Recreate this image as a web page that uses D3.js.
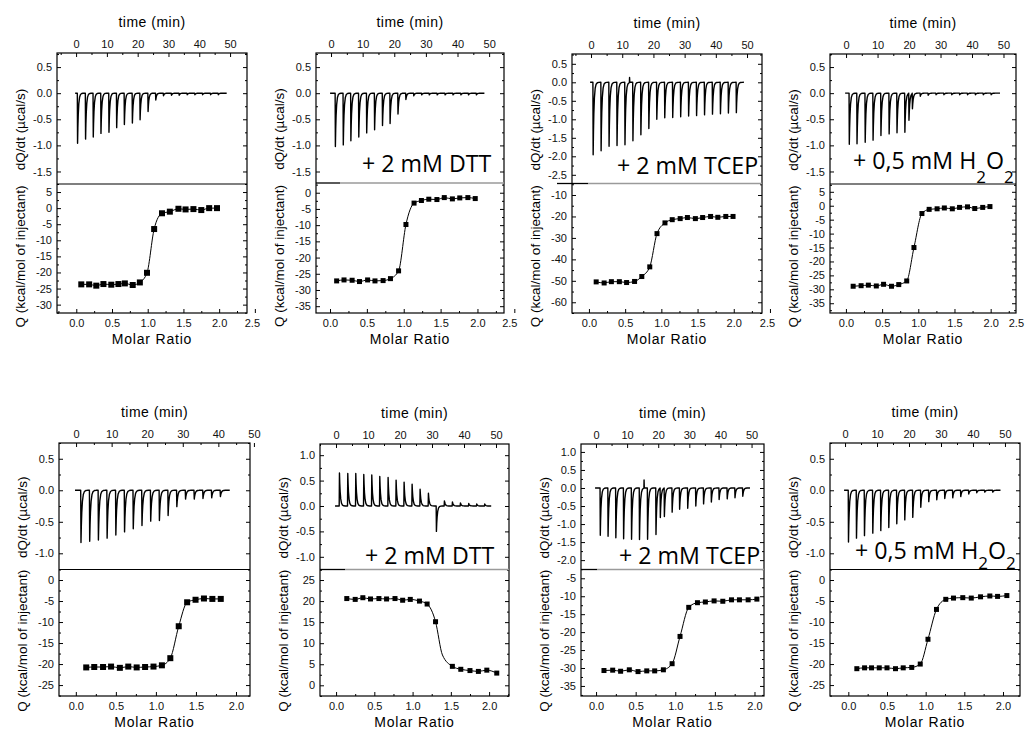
<!DOCTYPE html>
<html><head><meta charset="utf-8">
<script src="https://cdn.jsdelivr.net/npm/d3@7"></script>
<style>body{margin:0;background:#fff}svg{display:block}</style>
</head><body>
<svg id="c" width="1026" height="729"></svg>
<script>
// ---------------- DATA ----------------
const timeTicks = [0, 10, 20, 30, 40, 50];
const ratioTicksRow1 = [0, 0.5, 1.0, 1.5, 2.0, 2.5];
const ratioTicksRow2 = [0, 0.5, 1.0, 1.5, 2.0];

// Panel 1 (top-left)
const p1Time = [0.4,3.0,5.5,8.0,10.6,13.1,15.6,18.2,20.7,23.3,25.8,28.3,30.9,33.4,36.0,38.5,41.0,43.6,46.1];
const p1Peak = [-0.96,-0.88,-0.84,-0.77,-0.75,-0.66,-0.60,-0.57,-0.51,-0.35,-0.13,-0.05,-0.04,-0.04,-0.03,-0.03,-0.03,-0.03,-0.03];
const p1Ratio = [0.07,0.18,0.28,0.38,0.49,0.59,0.68,0.79,0.89,0.99,1.09,1.20,1.31,1.43,1.53,1.64,1.75,1.86,1.97];
const p1Q = [-23.7,-23.7,-24.1,-23.6,-23.8,-23.6,-23.4,-23.9,-23.1,-20.1,-6.5,-1.6,-1.1,-0.2,-0.4,-0.3,-0.6,0.0,0.0];
const p1DTicks = [0.5,0,-0.5,-1.0,-1.5];
const p1QTicks = [5,0,-5,-10,-15,-20,-25,-30];

// Panel 2 (+ 2 mM DTT, top)
const p2Time = [1.3,3.8,6.2,8.7,11.2,13.7,16.2,18.6,21.1,23.6,26.1,28.6,31.0,33.5,36.0,38.5,41.0,43.4,45.9];
const p2Peak = [-1.02,-0.99,-0.91,-0.84,-0.76,-0.70,-0.62,-0.58,-0.40,-0.12,-0.05,-0.03,-0.03,-0.03,-0.03,-0.03,-0.03,-0.03,-0.03];
const p2Ratio = [0.09,0.19,0.30,0.40,0.51,0.61,0.72,0.82,0.93,1.03,1.14,1.24,1.34,1.45,1.55,1.66,1.76,1.87,1.97];
const p2Q = [-27.2,-26.9,-27.0,-27.4,-26.9,-27.2,-27.1,-26.5,-24.1,-9.8,-3.2,-2.4,-2.0,-2.1,-1.5,-1.9,-1.6,-1.5,-1.8];
const p2DTicks = [0.5,0,-0.5,-1.0,-1.5];
const p2QTicks = [0,-5,-10,-15,-20,-25,-30,-35];

// Panel 3 (+ 2 mM TCEP, top)
const p3Time = [0.6,3.15,5.7,8.25,10.8,13.35,15.9,18.45,21.0,23.55,26.1,28.65,31.2,33.75,36.3,38.85,41.4,43.95,46.5];
const p3Peak = [-1.96,-1.85,-1.73,-1.71,-1.69,-1.58,-1.42,-1.25,-1.00,-0.96,-0.95,-0.93,-0.91,-0.90,-0.88,-0.86,-0.85,-0.83,-0.82];
const p3Blips = [[12.3, 0.13]];
const p3Ratio = [0.10,0.21,0.31,0.42,0.52,0.63,0.73,0.84,0.94,1.05,1.15,1.26,1.36,1.47,1.57,1.68,1.78,1.89,1.99];
const p3Q = [-50.5,-51.0,-50.4,-50.4,-50.8,-50.3,-48.0,-43.5,-28.0,-23.0,-21.5,-21.0,-20.5,-21.0,-20.5,-20.0,-20.4,-20.0,-20.0];
const p3DTicks = [0.5,0,-0.5,-1.0,-1.5,-2.0,-2.5];
const p3QTicks = [-10,-20,-30,-40,-50,-60];

// Panel 4 (+ 0,5 mM H2O2, top)
const p4Time = [0.95,3.4,6.0,8.5,11.0,13.6,16.1,18.6,19.9,21.0,23.5,26.0,28.5,31.0,33.5,36.0,38.5,41.0,43.5,46.0];
const p4Peak = [-0.98,-0.97,-0.94,-0.90,-0.81,-0.78,-0.76,-0.75,-0.52,-0.30,-0.06,-0.04,-0.03,-0.03,-0.03,-0.03,-0.03,-0.03,-0.03,-0.03];
const p4Ratio = [0.10,0.21,0.31,0.42,0.52,0.63,0.73,0.84,0.94,1.05,1.15,1.26,1.36,1.47,1.57,1.68,1.78,1.89,1.99];
const p4Q = [-28.9,-28.7,-28.5,-28.8,-28.2,-28.9,-28.3,-27.0,-15.0,-2.8,-1.3,-1.1,-0.8,-1.1,-0.6,-0.4,-1.0,-0.6,-0.3];
const p4DTicks = [0.5,0,-0.5,-1.0,-1.5];
const p4QTicks = [5,0,-5,-10,-15,-20,-25,-30,-35];

// Panel 5 (bottom-left)
const p5Time = [1.3,3.75,6.2,8.65,11.1,13.55,16.0,18.45,20.9,23.35,25.8,28.25,30.7,33.15,35.6,38.05,40.5];
const p5Peak = [-0.83,-0.81,-0.79,-0.76,-0.71,-0.66,-0.61,-0.56,-0.49,-0.48,-0.40,-0.26,-0.14,-0.14,-0.13,-0.12,-0.10];
const p5Ratio = [0.13,0.23,0.34,0.44,0.55,0.655,0.76,0.865,0.97,1.075,1.18,1.285,1.39,1.495,1.60,1.705,1.81];
const p5Q = [-20.8,-20.7,-20.7,-20.6,-20.9,-20.6,-20.8,-20.7,-20.6,-20.3,-18.6,-11.0,-5.3,-4.7,-4.4,-4.5,-4.5];
const p5DTicks = [0.5,0,-0.5,-1.0];
const p5QTicks = [0,-5,-10,-15,-20,-25];

// Panel 6 (+ 2 mM DTT, bottom)
const p6Time = [1.0,3.6,6.1,8.6,11.1,13.6,16.2,18.7,21.2,23.7,26.2,28.8,31.3,33.8,36.3,38.8,41.4,43.9,46.4];
const p6Peak = [0.65,0.64,0.64,0.62,0.61,0.58,0.56,0.51,0.47,0.43,0.33,0.25,-0.50,0.10,0.08,0.06,0.05,0.04,0.04];
const p6Ratio = [0.14,0.25,0.35,0.45,0.56,0.66,0.77,0.87,0.97,1.09,1.19,1.30,1.52,1.63,1.75,1.86,1.97,2.10];
const p6Q = [20.6,20.4,20.8,20.5,20.6,20.5,20.6,20.2,20.4,20.0,19.3,15.1,4.5,3.8,3.5,3.3,3.6,2.9];
const p6FitRatio = [0.14,0.25,0.35,0.45,0.56,0.66,0.77,0.87,0.97,1.09,1.19,1.30,1.39,1.52,1.63,1.75,1.86,1.97,2.10];
const p6FitQ = [20.6,20.4,20.8,20.5,20.6,20.5,20.6,20.2,20.4,20.0,19.3,15.1,7.2,4.5,3.8,3.5,3.3,3.6,2.9];
const p6DTicks = [1.0,0.5,0,-0.5,-1.0];
const p6QTicks = [0,5,10,15,20,25];

// Panel 7 (+ 2 mM TCEP, bottom)
const p7Time = [1.3,3.8,6.3,8.8,11.35,13.9,16.5,19.2,20.6,21.9,24.4,26.8,29.4,32.0,34.5,37.0,39.5,42.1,44.6,47.1];
const p7Peak = [-1.31,-1.34,-1.38,-1.41,-1.42,-1.43,-1.42,-1.29,-0.82,-0.79,-0.67,-0.59,-0.56,-0.50,-0.44,-0.39,-0.32,-0.30,-0.27,-0.23];
const p7Blips = [[15.4, 0.22]];
const p7Ratio = [0.10,0.21,0.31,0.42,0.53,0.64,0.74,0.85,0.96,1.06,1.17,1.28,1.38,1.49,1.60,1.71,1.81,1.92,2.03];
const p7Q = [-30.7,-30.6,-30.9,-30.5,-31.0,-30.8,-30.8,-30.5,-28.8,-21.2,-13.1,-11.8,-11.6,-11.3,-11.4,-11.0,-11.0,-11.0,-10.8];
const p7DTicks = [1.0,0.5,0,-0.5,-1.0,-1.5,-2.0];
const p7QTicks = [-5,-10,-15,-20,-25,-30,-35];

// Panel 8 (+ 0,5 mM H2O2, bottom)
const p8Time = [1.0,3.5,6.0,8.6,11.1,13.6,16.1,18.6,21.1,23.6,26.1,28.6,31.1,33.6,36.1,38.6,41.1,43.6,46.1];
const p8Peak = [-0.82,-0.76,-0.72,-0.68,-0.64,-0.59,-0.53,-0.47,-0.43,-0.27,-0.18,-0.15,-0.13,-0.12,-0.10,-0.06,-0.04,-0.03,-0.03];
const p8Ratio = [0.11,0.21,0.30,0.40,0.50,0.61,0.71,0.82,0.93,1.03,1.14,1.26,1.36,1.48,1.59,1.71,1.83,1.93,2.05];
const p8Q = [-21.1,-20.9,-20.9,-20.9,-20.9,-21.1,-20.9,-20.8,-20.0,-14.1,-7.0,-4.6,-4.3,-4.2,-4.3,-4.0,-3.8,-3.9,-3.7];
const p8DTicks = [0.5,0,-0.5,-1.0];
const p8QTicks = [0,-5,-10,-15,-20,-25];

// ---------------- LAYOUT ----------------
const panels = [
  {time:p1Time, peak:p1Peak, end:48.9, ratio:p1Ratio, q:p1Q, dT:p1DTicks, qT:p1QTicks, rT:ratioTicksRow1, qMinor:2.5, sq:6, lastShift:-3,
   x0:57, x1:247, y0:53, yd:184, y1:313, tDom:[-6.2,55.5], mDom:[-0.27,2.39], dDom:[-1.74,0.77], qDom:[-32.6,7.5]},
  {time:p2Time, peak:p2Peak, end:48.5, ratio:p2Ratio, q:p2Q, dT:p2DTicks, qT:p2QTicks, rT:ratioTicksRow1, qMinor:2.5, sq:5, lastShift:-5,
   x0:316, x1:504, y0:53, yd:183, y1:313, tDom:[-4.75,54.7], mDom:[-0.19,2.36], dDom:[-1.72,0.77], qDom:[-37.1,3.0],
   note:{text:"+ 2 mM DTT", x:362, y:172}, grayFrom:340},
  {time:p3Time, peak:p3Peak, blips:p3Blips, end:49, ratio:p3Ratio, q:p3Q, dT:p3DTicks, qT:p3QTicks, rT:ratioTicksRow1, qMinor:5, sq:5, lastShift:-3,
   x0:572, x1:762, y0:54, yd:183.5, y1:313, tDom:[-6.1,54.8], mDom:[-0.234,2.39], dDom:[-2.735,0.765], qDom:[-65.0,-4.64],
   note:{text:"+ 2 mM TCEP", x:617, y:174}, grayFrom:588, blackFrom:557},
  {time:p4Time, peak:p4Peak, end:48.9, ratio:p4Ratio, q:p4Q, dT:p4DTicks, qT:p4QTicks, rT:ratioTicksRow1, qMinor:2.5, sq:5, lastShift:-11,
   x0:830, x1:1016, y0:54, yd:184, y1:313, tDom:[-5.1,53.97], mDom:[-0.22,2.35], dDom:[-1.74,0.75], qDom:[-38.5,7.8],
   note:{text:"+ 0,5 mM H", x:853, y:169, sub:true, subY:183}},
  {time:p5Time, peak:p5Peak, end:43.2, ratio:p5Ratio, q:p5Q, dT:p5DTicks, qT:p5QTicks, rT:ratioTicksRow2, qMinor:2.5, sq:6,
   x0:59, x1:250, y0:443, yd:569.5, y1:696, tDom:[-4.8,48.9], mDom:[-0.21,2.175], dDom:[-1.257,0.75], qDom:[-27.6,2.5]},
  {time:p6Time, peak:p6Peak, end:48.5, ratio:p6Ratio, q:p6Q, fitRatio:p6FitRatio, fitQ:p6FitQ, dT:p6DTicks, qT:p6QTicks, rT:ratioTicksRow2, qMinor:2.5, sq:5,
   x0:320, x1:509, y0:444, yd:569.5, y1:696, tDom:[-5,54.06], mDom:[-0.21,2.26], dDom:[-1.25,1.22], qDom:[-2.54,27.5],
   note:{text:"+ 2 mM DTT", x:365, y:564}, grayFrom:345},
  {time:p7Time, peak:p7Peak, blips:p7Blips, end:49.5, ratio:p7Ratio, q:p7Q, dT:p7DTicks, qT:p7QTicks, rT:ratioTicksRow2, qMinor:2.5, sq:5,
   x0:581, x1:764, y0:444, yd:569.5, y1:696, tDom:[-4.82,54.0], mDom:[-0.19,2.12], dDom:[-2.26,1.22], qDom:[-37.8,-2.55],
   note:{text:"+ 2 mM TCEP", x:619, y:564}, grayFrom:597},
  {time:p8Time, peak:p8Peak, end:48.6, ratio:p8Ratio, q:p8Q, dT:p8DTicks, qT:p8QTicks, rT:ratioTicksRow2, qMinor:2.5, sq:5,
   x0:830, x1:1020, y0:443, yd:569.5, y1:696, tDom:[-4.7,54.7], mDom:[-0.237,2.22], dDom:[-1.257,0.75], qDom:[-27.6,2.5],
   note:{text:"+ 0,5 mM H", x:855, y:559, sub:true, subY:569}}
];

const svg = d3.select("#c");
const FONT = "'Liberation Sans', Arial, sans-serif";

function buildTrace(times, peaks, end, blips) {
  const ev = times.map((t,i)=>({t, h:peaks[i], blip:false}))
    .concat((blips||[]).map(b=>({t:b[0], h:b[1], blip:true})))
    .sort((a,b)=>a.t-b.t);
  const pts = [[-0.3,0]];
  ev.forEach((e,i) => {
    const next = i < ev.length-1 ? ev[i+1].t : end;
    pts.push([e.t, 0]);
    if (e.blip) {
      pts.push([e.t+0.05, e.h]); pts.push([e.t+0.12, 0]);
    } else {
      pts.push([e.t+0.08, e.h]);
      [0.1,0.22,0.4,0.65,0.95,1.35,1.8].forEach(dt => {
        const tt = e.t+0.08+dt;
        if (tt < next-0.02) pts.push([tt, e.h*Math.exp(-dt/0.26)]);
      });
    }
  });
  pts.push([end, 0]);
  return pts;
}

function multiples(lo, hi, step) {
  const out = [];
  const a = Math.ceil(lo/step - 1e-9), b = Math.floor(hi/step + 1e-9);
  for (let k=a; k<=b; k++) out.push(+(k*step).toFixed(4));
  return out;
}

function styleAxis(g, size) {
  g.select(".domain").remove();
  g.selectAll(".tick line").attr("stroke","#000").attr("stroke-width",1);
  g.selectAll(".tick text").attr("fill","#111").attr("font-family",FONT).attr("font-size",size||11);
  return g;
}

panels.forEach(P => {
  const g = svg.append("g");
  const xT = d3.scaleLinear().domain(P.tDom).range([P.x0, P.x1]);
  const xM = d3.scaleLinear().domain(P.mDom).range([P.x0, P.x1]);
  const yD = d3.scaleLinear().domain(P.dDom).range([P.yd, P.y0]);
  const yQ = d3.scaleLinear().domain(P.qDom).range([P.y1, P.yd]);

  // thermogram
  const pts = buildTrace(P.time, P.peak, P.end, P.blips);
  g.append("path")
    .attr("d", d3.line().x(d=>xT(d[0])).y(d=>yD(d[1]))(pts))
    .attr("fill","none").attr("stroke","#000").attr("stroke-width",1.4).attr("stroke-linejoin","round");

  // isotherm fit line
  const fr = P.fitRatio || P.ratio, fq = P.fitQ || P.q;
  g.append("path")
    .attr("d", d3.line().curve(d3.curveMonotoneX).x(d=>xM(d[0])).y(d=>yQ(d[1]))(fr.map((r,i)=>[r,fq[i]])))
    .attr("fill","none").attr("stroke","#000").attr("stroke-width",1);
  g.selectAll(null).data(P.ratio.map((r,i)=>[r,P.q[i]])).enter().append("rect")
    .attr("x", d=>xM(d[0])-P.sq/2).attr("y", d=>yQ(d[1])-P.sq/2)
    .attr("width",P.sq).attr("height",P.sq).attr("fill","#000");

  // ---- axes ----
  const tMinor = multiples(P.tDom[0], P.tDom[1], 5).filter(v => !timeTicks.includes(v));
  styleAxis(g.append("g").attr("transform",`translate(0,${P.y0})`)
    .call(d3.axisTop(xT).tickValues(timeTicks).tickSize(-4).tickPadding(5).tickFormat(d=>String(d))));
  styleAxis(g.append("g").attr("transform",`translate(0,${P.y0})`)
    .call(d3.axisTop(xT).tickValues(tMinor).tickSize(-2).tickFormat("")));
  const mMinor = multiples(P.mDom[0], P.mDom[1], 0.25).filter(v => !P.rT.includes(v));
  const mAx = styleAxis(g.append("g").attr("transform",`translate(0,${P.y1})`)
    .call(d3.axisBottom(xM).tickValues(P.rT).tickSize(-4).tickPadding(6).tickFormat(d=>d.toFixed(1))));
  if (P.lastShift) {
    mAx.selectAll(".tick").filter(d => d === 2.5).select("text").attr("dx", P.lastShift);
  }
  styleAxis(g.append("g").attr("transform",`translate(0,${P.y1})`)
    .call(d3.axisBottom(xM).tickValues(mMinor.filter(v=>v<=P.mDom[1])).tickSize(-2).tickFormat("")));
  const dMinor = multiples(P.dDom[0], P.dDom[1], 0.25).filter(v => !P.dT.includes(v));
  styleAxis(g.append("g").attr("transform",`translate(${P.x0},0)`)
    .call(d3.axisLeft(yD).tickValues(P.dT).tickSize(-4).tickPadding(5).tickFormat(d=>d.toFixed(1))));
  [[d3.axisLeft, P.x0],[d3.axisRight, P.x1]].forEach(([ax, xx]) => {
    styleAxis(g.append("g").attr("transform",`translate(${xx},0)`)
      .call(ax(yD).tickValues(dMinor).tickSize(-2).tickFormat("")));
  });
  styleAxis(g.append("g").attr("transform",`translate(${P.x1},0)`)
    .call(d3.axisRight(yD).tickValues(P.dT).tickSize(-4).tickFormat("")));
  const qMinor = multiples(P.qDom[0], P.qDom[1], P.qMinor).filter(v => !P.qT.includes(v));
  styleAxis(g.append("g").attr("transform",`translate(${P.x0},0)`)
    .call(d3.axisLeft(yQ).tickValues(P.qT).tickSize(-4).tickPadding(5).tickFormat(d=>String(d))));
  [[d3.axisLeft, P.x0],[d3.axisRight, P.x1]].forEach(([ax, xx]) => {
    styleAxis(g.append("g").attr("transform",`translate(${xx},0)`)
      .call(ax(yQ).tickValues(qMinor).tickSize(-2).tickFormat("")));
  });
  styleAxis(g.append("g").attr("transform",`translate(${P.x1},0)`)
    .call(d3.axisRight(yQ).tickValues(P.qT).tickSize(-4).tickFormat("")));

  // frame
  g.append("rect").attr("x",P.x0).attr("y",P.y0).attr("width",P.x1-P.x0).attr("height",P.y1-P.y0)
    .attr("fill","none").attr("stroke","#000").attr("stroke-width",1.2);
  // divider
  if (P.grayFrom) {
    g.append("line").attr("x1",P.blackFrom||P.x0).attr("x2",P.grayFrom).attr("y1",P.yd).attr("y2",P.yd)
      .attr("stroke","#000").attr("stroke-width",1.3);
    g.append("line").attr("x1",P.grayFrom).attr("x2",P.x1).attr("y1",P.yd).attr("y2",P.yd)
      .attr("stroke","#9a9a9a").attr("stroke-width",1.6);
  } else {
    g.append("line").attr("x1",P.x0).attr("x2",P.x1).attr("y1",P.yd).attr("y2",P.yd)
      .attr("stroke","#000").attr("stroke-width",1.2);
  }

  // titles
  const cx = (P.x0+P.x1)/2;
  g.append("text").attr("x",cx).attr("y",P.y0-26).attr("text-anchor","middle")
    .attr("font-family",FONT).attr("font-size",14).attr("letter-spacing","0.5px").text("time (min)");
  g.append("text").attr("x",cx).attr("y",P.y1+31).attr("text-anchor","middle")
    .attr("font-family",FONT).attr("font-size",14).attr("letter-spacing","0.8px").text("Molar Ratio");
  const lx = P.x0-32;
  const cyTop = (P.y0+P.yd)/2 + 11, cyBot = (P.yd+P.y1)/2 + 8;
  g.append("text").attr("transform",`translate(${lx},${cyTop}) rotate(-90)`).attr("text-anchor","middle")
    .attr("font-family",FONT).attr("font-size",13.5).text("dQ/dt (\u00B5cal/s)");
  g.append("text").attr("transform",`translate(${lx},${cyBot}) rotate(-90)`).attr("text-anchor","middle")
    .attr("font-family",FONT).attr("font-size",13.5).text("Q (kcal/mol of injectant)");

  // annotation
  if (P.note) {
    const t = g.append("text").attr("x",P.note.x).attr("y",P.note.y)
      .attr("font-family","'Open Sans', sans-serif").attr("font-size",23.2).attr("fill","#000");
    t.append("tspan").text(P.note.text);
    if (P.note.sub) {
      const d = P.note.subY - P.note.y;
      t.append("tspan").attr("font-size",17).attr("dy",d).text("2");
      t.append("tspan").attr("dy",-d).text("O");
      t.append("tspan").attr("font-size",17).attr("dy",d).text("2");
    }
  }
});
</script>
</body></html>
